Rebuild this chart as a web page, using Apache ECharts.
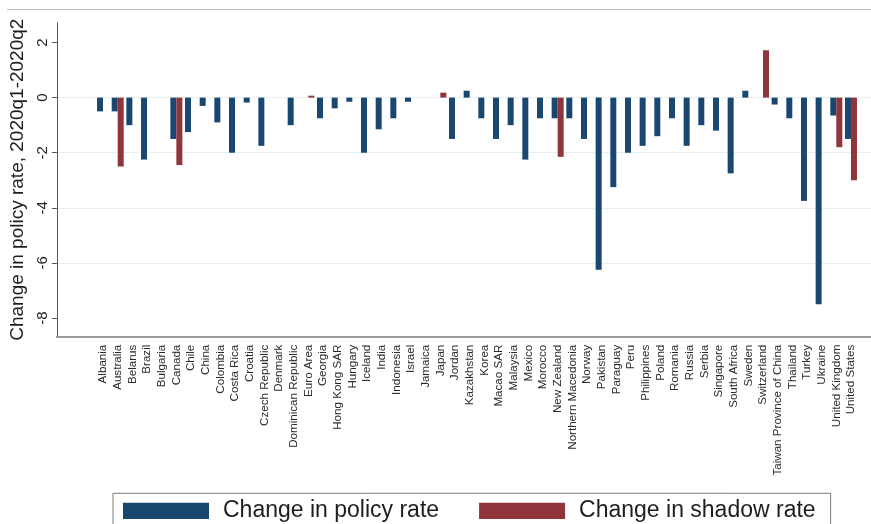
<!DOCTYPE html>
<html>
<head>
<meta charset="utf-8">
<script src="https://cdn.jsdelivr.net/npm/echarts@6/dist/echarts.min.js"></script>
<style>
  html, body { margin: 0; padding: 0; background: #ffffff; }
  #chart { width: 871px; height: 524px; }
</style>
</head>
<body>
<div id="chart"></div>
<script>
// Economies, in display order
const countries = [
  'Albania', 'Australia', 'Belarus', 'Brazil', 'Bulgaria', 'Canada', 'Chile', 'China',
  'Colombia', 'Costa Rica', 'Croatia', 'Czech Republic', 'Denmark', 'Dominican Republic',
  'Euro Area', 'Georgia', 'Hong Kong SAR', 'Hungary', 'Iceland', 'India', 'Indonesia',
  'Israel', 'Jamaica', 'Japan', 'Jordan', 'Kazakhstan', 'Korea', 'Macao SAR', 'Malaysia',
  'Mexico', 'Morocco', 'New Zealand', 'Northern Macedonia', 'Norway', 'Pakistan',
  'Paraguay', 'Peru', 'Philippines', 'Poland', 'Romania', 'Russia', 'Serbia', 'Singapore',
  'South Africa', 'Sweden', 'Switzerland', 'Taiwan Province of China', 'Thailand',
  'Turkey', 'Ukraine', 'United Kingdom', 'United States'
];

// Change in policy rate, 2020q1-2020q2 (percentage points)
const policyRate = [
  -0.5, -0.5, -1.0, -2.25, null, -1.5, -1.25, -0.3,
  -0.9, -2.0, -0.18, -1.75, null, -1.0,
  null, -0.75, -0.39, -0.15, -2.0, -1.15, -0.75,
  -0.15, null, null, -1.5, 0.25, -0.75, -1.5, -1.0,
  -2.25, -0.75, -0.75, -0.75, -1.5, -6.25,
  -3.25, -2.0, -1.75, -1.4, -0.75, -1.75, -1.0, -1.2,
  -2.75, 0.25, null, -0.25, -0.75,
  -3.75, -7.5, -0.65, -1.5
];

// Change in shadow rate (only where estimated)
const shadowRate = [
  null, -2.5, null, null, null, -2.45, null, null,
  null, null, null, null, null, null,
  0.07, null, null, null, null, null, null,
  null, null, 0.18, null, null, null, null, null,
  null, null, -2.15, null, null, null,
  null, null, null, null, null, null, null, null,
  null, null, 1.72, null, null,
  null, null, -1.8, -3.0
];

const yTicks = [-8, -6, -4, -2, 0, 2];
const yMin = -8.68;
const yMax = 2.72;

const BLUE = '#1a476f';
const RED = '#90353b';

const chart = echarts.init(document.getElementById('chart'), null, { renderer: 'canvas' });

const plotTop = 22.7;
const plotBottom = 187.3;

chart.setOption({
  animation: false,
  backgroundColor: '#ffffff',
  textStyle: { fontFamily: '"Liberation Sans", Arial, sans-serif' },
  graphic: [{
    type: 'line',
    shape: { x1: 7, y1: 9.5, x2: 871, y2: 9.5 },
    style: { stroke: '#bdbdbd', lineWidth: 1 },
    silent: true
  }],
  grid: [
    // bar area
    { left: 95.7, right: 12.7, top: plotTop, bottom: plotBottom },
    // frame with axis lines and gridlines
    { left: 43, right: 0, top: plotTop, bottom: plotBottom }
  ],
  legend: {
    left: 113,
    top: 493.3,
    orient: 'horizontal',
    icon: 'rect',
    itemWidth: 86,
    itemHeight: 16.3,
    itemGap: 40,
    padding: [5.5, 15, 10, 10],
    borderColor: '#7a7a7a',
    borderWidth: 1,
    textStyle: {
      fontSize: 23,
      lineHeight: 24,
      color: '#1e1e1e',
      padding: [0, 0, 0, 9],
      fontFamily: '"Liberation Sans", Arial, sans-serif'
    },
    data: ['Change in policy rate', 'Change in shadow rate']
  },
  xAxis: [
    {
      type: 'category',
      gridIndex: 0,
      data: countries,
      boundaryGap: true,
      axisLine: { show: false },
      axisTick: { show: false },
      splitLine: { show: false },
      axisLabel: {
        interval: 0,
        rotate: 90,
        fontSize: 11.6,
        margin: 8,
        color: '#2a2a2a',
        fontFamily: '"Liberation Sans", Arial, sans-serif'
      }
    },
    {
      type: 'value',
      gridIndex: 1,
      min: 0,
      max: 1,
      axisLine: { show: true, onZero: false, lineStyle: { color: '#9a9a9a', width: 2 } },
      axisTick: { show: false },
      axisLabel: { show: false },
      splitLine: { show: false }
    }
  ],
  yAxis: [
    {
      type: 'value',
      gridIndex: 0,
      min: yMin,
      max: yMax,
      show: false,
      splitLine: { show: false }
    },
    {
      type: 'value',
      gridIndex: 1,
      min: yMin,
      max: yMax,
      name: 'Change in policy rate, 2020q1-2020q2',
      nameLocation: 'middle',
      nameRotate: 90,
      nameGap: 27,
      nameTextStyle: {
        fontSize: 19,
        color: '#1e1e1e',
        fontFamily: '"Liberation Sans", Arial, sans-serif'
      },
      axisLine: { show: true, lineStyle: { color: '#555555', width: 1 } },
      axisTick: {
        show: true,
        length: 5,
        customValues: yTicks,
        lineStyle: { color: '#555555', width: 1 }
      },
      axisLabel: {
        customValues: yTicks,
        rotate: 90,
        fontSize: 15,
        margin: 7,
        color: '#1e1e1e',
        fontFamily: '"Liberation Sans", Arial, sans-serif'
      },
      splitLine: {
        show: true,
        showMinLine: false,
        showMaxLine: false,
        lineStyle: { color: '#e6eff2', width: 1 }
      }
    }
  ],
  series: [
    {
      name: 'Change in policy rate',
      type: 'bar',
      xAxisIndex: 0,
      yAxisIndex: 0,
      data: policyRate,
      barWidth: 6,
      barGap: '0%',
      itemStyle: { color: BLUE }
    },
    {
      name: 'Change in shadow rate',
      type: 'bar',
      xAxisIndex: 0,
      yAxisIndex: 0,
      data: shadowRate,
      barWidth: 6,
      barGap: '0%',
      itemStyle: { color: RED }
    }
  ]
});
</script>
</body>
</html>
